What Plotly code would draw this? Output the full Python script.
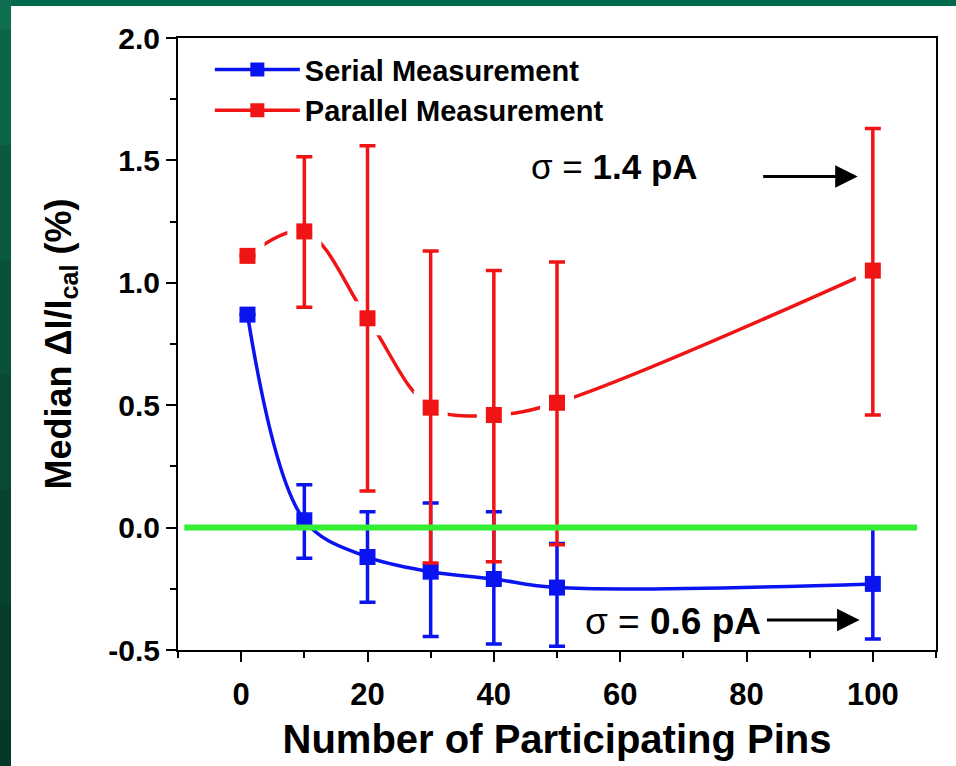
import plotly.graph_objects as go

# ---- data ----
pins = [1, 10, 20, 30, 40, 50, 100]

serial_median = [0.87, 0.03, -0.12, -0.18, -0.21, -0.245, -0.23]
serial_upper = [None, 0.175, 0.065, 0.10, 0.065, -0.065, 0.0]
serial_lower = [None, -0.125, -0.305, -0.445, -0.475, -0.485, -0.455]

parallel_median = [1.11, 1.21, 0.855, 0.49, 0.46, 0.51, 1.05]
parallel_upper = [None, 1.515, 1.56, 1.13, 1.05, 1.085, 1.63]
parallel_lower = [None, 0.90, 0.15, -0.145, -0.14, -0.07, 0.46]

x_ticks = [0, 20, 40, 60, 80, 100]
x_tick_labels = ["0", "20", "40", "60", "80", "100"]
y_ticks = [-0.5, 0.0, 0.5, 1.0, 1.5, 2.0]
y_tick_labels = ["-0.5", "0.0", "0.5", "1.0", "1.5", "2.0"]

sigma_parallel = "1.4 pA"
sigma_serial = "0.6 pA"

BLUE = "#0a14f0"
RED = "#f01414"
GREEN = "#33ee33"
FONT = "Liberation Sans, Arial, sans-serif"


def err_plus(med, up):
    return [None if u is None else u - m for m, u in zip(med, up)]


def err_minus(med, lo):
    return [None if l is None else m - l for m, l in zip(med, lo)]


fig = go.Figure()

# serial: smooth line + markers with asymmetric error bars
fig.add_trace(go.Scatter(
    x=pins, y=serial_median, mode="lines",
    line=dict(color=BLUE, width=3.5, shape="spline", smoothing=1.0),
    showlegend=False, hoverinfo="skip"))
fig.add_trace(go.Scatter(
    x=pins, y=serial_median, mode="markers",
    marker=dict(symbol="square", size=16, color=BLUE),
    error_y=dict(type="data", symmetric=False,
                 array=err_plus(serial_median, serial_upper),
                 arrayminus=err_minus(serial_median, serial_lower),
                 color=BLUE, thickness=3.5, width=8),
    showlegend=False))

# parallel: smooth line, white halo gaps around symbols, markers with error bars
fig.add_trace(go.Scatter(
    x=pins, y=parallel_median, mode="lines",
    line=dict(color=RED, width=3.5, shape="spline", smoothing=1.0),
    showlegend=False, hoverinfo="skip"))
fig.add_trace(go.Scatter(
    x=pins, y=parallel_median, mode="markers",
    marker=dict(symbol="square", size=34, color="white"),
    showlegend=False, hoverinfo="skip"))
fig.add_trace(go.Scatter(
    x=pins, y=parallel_median, mode="markers",
    marker=dict(symbol="square", size=16, color=RED),
    error_y=dict(type="data", symmetric=False,
                 array=err_plus(parallel_median, parallel_upper),
                 arrayminus=err_minus(parallel_median, parallel_lower),
                 color=RED, thickness=3.5, width=8),
    showlegend=False))

# legend entries
fig.add_trace(go.Scatter(x=[None], y=[None], mode="lines+markers", name="<b>Serial Measurement</b>",
                         line=dict(color=BLUE, width=3.5), marker=dict(symbol="square", size=14, color=BLUE)))
fig.add_trace(go.Scatter(x=[None], y=[None], mode="lines+markers", name="<b>Parallel Measurement</b>",
                         line=dict(color=RED, width=3.5), marker=dict(symbol="square", size=14, color=RED)))

# background: slide-like green strips and white page
shapes = [
    dict(type="rect", xref="paper", yref="paper", x0=-0.2203, x1=1.2, y0=-0.3, y1=1.0523,
         fillcolor="white", line=dict(width=0), layer="below"),
    dict(type="rect", xref="paper", yref="paper", x0=-0.3, x1=1.2, y0=1.0523, y1=1.2,
         fillcolor="#006a4f", line=dict(width=0), layer="below"),
    dict(type="line", xref="x", yref="y", x0=-9, x1=107, y0=0, y1=0,
         line=dict(color=GREEN, width=6), layer="above"),
]
bands = ["#0d6e50", "#0b6448", "#0a5a41", "#09513b", "#084a36", "#074331", "#073d2d", "#06382a"]
n = len(bands)
for i, c in enumerate(bands):
    y_top = 1.2 - i * 1.5 / n
    y_bot = 1.2 - (i + 1) * 1.5 / n
    shapes.append(dict(type="rect", xref="paper", yref="paper", x0=-0.3, x1=-0.2203, y0=y_bot, y1=y_top,
                       fillcolor=c, line=dict(width=0), layer="below"))
fig.update_layout(shapes=shapes)

# sigma annotations with arrows
fig.add_annotation(x=97.6, y=1.434, ax=82.4, ay=1.434, xref="x", yref="y", axref="x", ayref="y",
                   text="", showarrow=True, arrowhead=2, arrowsize=1.5, arrowwidth=3, arrowcolor="black")
fig.add_annotation(x=97.9, y=-0.377, ax=83.0, ay=-0.377, xref="x", yref="y", axref="x", ayref="y",
                   text="", showarrow=True, arrowhead=2, arrowsize=1.5, arrowwidth=3, arrowcolor="black")
fig.add_annotation(x=59.1, y=1.475, xref="x", yref="y", showarrow=False,
                   text="σ = <b>" + sigma_parallel + "</b>",
                   font=dict(family=FONT, size=35, color="black"))
fig.add_annotation(x=68.3, y=-0.385, xref="x", yref="y", showarrow=False,
                   text="σ = <b>" + sigma_serial + "</b>",
                   font=dict(family=FONT, size=37, color="black"))

fig.update_layout(
    width=956, height=766,
    margin=dict(l=178, r=20, t=38, b=116),
    paper_bgcolor="#084a36",
    plot_bgcolor="white",
    legend=dict(x=0.042, y=0.99, xanchor="left", yanchor="top", bgcolor="rgba(0,0,0,0)",
                font=dict(family=FONT, size=29, color="black"),
                itemwidth=85, tracegroupgap=0),
    xaxis=dict(range=[-10, 110], tickvals=x_ticks, ticktext=["<b>%s</b>" % t for t in x_tick_labels],
               ticks="outside", ticklen=10, tickwidth=2,
               tickcolor="black", ticklabelstandoff=6, automargin=False,
               minor=dict(dtick=10, tick0=0, ticks="outside", ticklen=6, tickwidth=2, tickcolor="black"),
               showline=True, linecolor="black", linewidth=2, mirror=True,
               showgrid=False, zeroline=False,
               tickfont=dict(family=FONT, size=31, color="black"),
               title=dict(text="<b>Number of Participating Pins</b>", standoff=14,
                          font=dict(family=FONT, size=40, color="black"))),
    yaxis=dict(range=[-0.5, 2.0], tickvals=y_ticks, ticktext=["<b>%s</b>" % t for t in y_tick_labels],
               ticks="outside", ticklen=10, tickwidth=2, tickcolor="black", automargin=False,
               minor=dict(dtick=0.25, tick0=0, ticks="outside", ticklen=6, tickwidth=2, tickcolor="black"),
               showline=True, linecolor="black", linewidth=2, mirror=True,
               showgrid=False, zeroline=False,
               tickfont=dict(family=FONT, size=30, color="black"),
               title=dict(text="<b>Median ΔI/I<sub>cal</sub> (%)</b>", standoff=26,
                          font=dict(family=FONT, size=36, color="black"))),
)

fig.write_html("out.html", config={"displayModeBar": False},
               post_script="document.body.style.margin='0';")
